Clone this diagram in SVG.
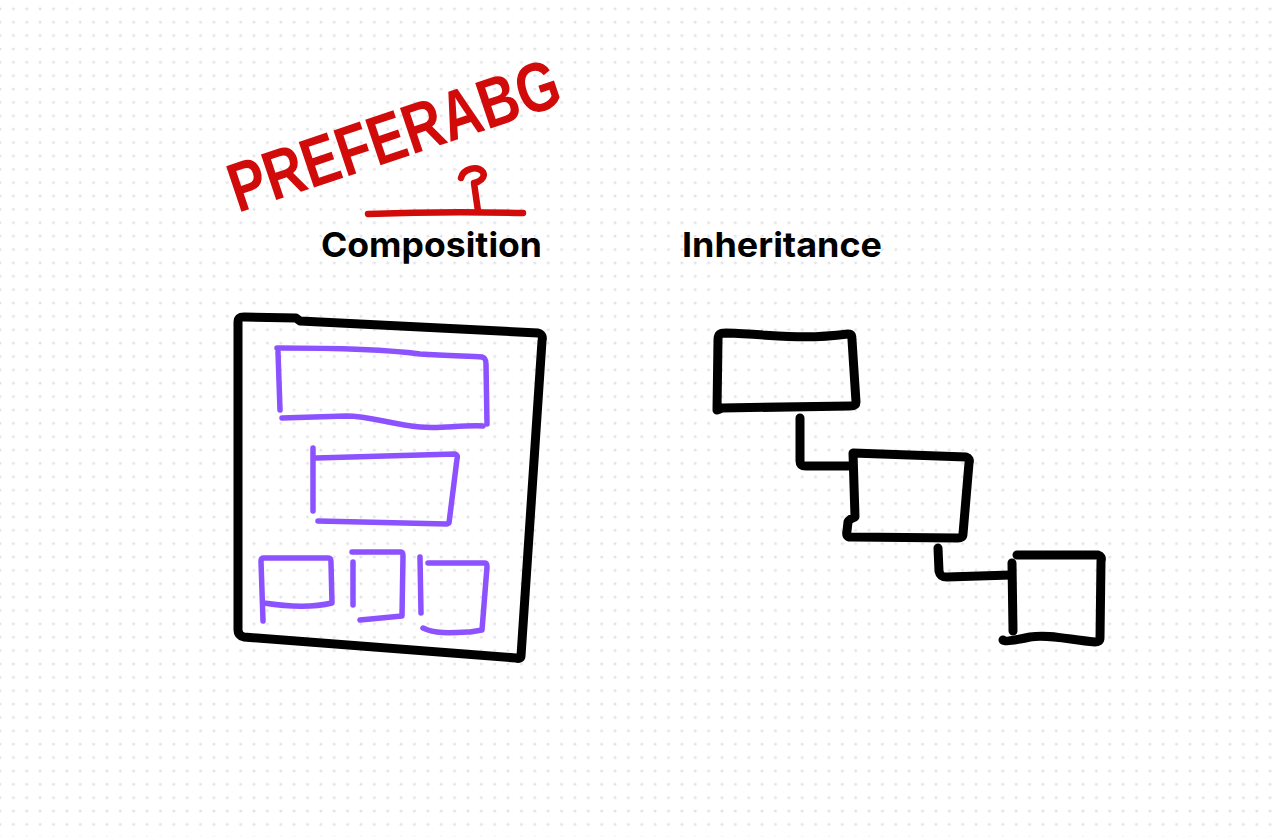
<svg xmlns="http://www.w3.org/2000/svg" width="1280" height="837" viewBox="0 0 1280 837">
<defs>
<pattern id="dots" patternUnits="userSpaceOnUse" x="-6.685" y="2.115" width="13.37" height="13.37">
<circle cx="6.685" cy="6.685" r="1.5" fill="#e2e2ea"/>
</pattern>
<style>
.blk{fill:none;stroke:#000;stroke-width:9;stroke-linecap:round;stroke-linejoin:round}
.pur{fill:none;stroke:#8c52ff;stroke-width:5.5;stroke-linecap:round;stroke-linejoin:round}
.red{fill:none;stroke:#d10a0a;stroke-width:6.5;stroke-linecap:round;stroke-linejoin:round}
.title{font-family:Inter,"Liberation Sans",sans-serif;font-weight:700;font-size:34px;fill:#000}
.hand{font-family:"Liberation Sans",Arial,sans-serif;font-weight:700;font-size:70px;fill:#d10a0a}
</style>
</defs>
<rect width="1280" height="837" fill="#fff"/>
<rect width="1280" height="837" fill="url(#dots)"/>

<g id="annotation-preferable">
<text class="hand" x="238" y="213" textLength="345" lengthAdjust="spacingAndGlyphs" transform="rotate(-18.5 238 213)">PREFERABG</text>
</g>

<g id="label-composition">
<text class="title" x="321" y="257" textLength="221" lengthAdjust="spacingAndGlyphs">Composition</text>
</g>
<g id="label-inheritance">
<text class="title" x="682" y="257" textLength="200" lengthAdjust="spacingAndGlyphs">Inheritance</text>
</g>

<g id="composition-frame">
<path class="blk" stroke-width="8.5" d="M238,630 L238,322 C238,318 240,317 244,317 L296,318 L300,321 L538,333 C542,334 543,337 542,341 L521,656 C521,658 519,659 516,658 L244,637 C240,636 238,634 238,630 Z"/>
</g>
<g id="comp-part-1">
<path class="pur" d="M278,352 L280,410"/>
<path class="pur" d="M277,348 C330,348 390,350 420,354 C450,356 470,356 482,357 C486,358 486,361 486,364 L487,424"/>
<path class="pur" d="M483,426 C460,425 440,429 420,427 C390,424 370,416 346,416 L282,418"/>
</g>
<g id="comp-part-2">
<path class="pur" d="M313,448 L313,511"/>
<path class="pur" d="M316,458 L455,454 C457,455 458,456 457,459 L449,523"/>
<path class="pur" d="M318,521 L447,524"/>
</g>
<g id="comp-part-3">
<path class="pur" d="M263,621 L261,561 C261,559 262,558 264,558 L328,558 C331,558 331,560 331,563 L332,603 C315,607 290,607 264,603"/>
</g>
<g id="comp-part-4">
<path class="pur" d="M352,552 L401,552 C403,552 403,554 403,556 L402,616 L360,620"/>
<path class="pur" d="M353,562 L353,605"/>
</g>
<g id="comp-part-5">
<path class="pur" d="M428,563 L485,563 C487,563 487,565 487,567 L482,630 L470,632 C450,633 435,634 423,628"/>
<path class="pur" d="M420,557 L421,613"/>
</g>

<g id="inherit-box-1">
<path class="blk" d="M717,410 L718,340 C718,334 720,333 726,333 C780,335 800,340 848,334 C852,334 852,336 852,340 L856,402 C856,405 854,406 850,406 L722,408 L717,410"/>
</g>
<g id="inherit-box-2">
<path class="blk" d="M853,453 L966,457 C969,458 970,460 969,463 L963,534 C963,537 961,538 958,538 L851,537 C847,537 846,535 847,531 L848,522 C849,519 853,518 855,517 Z"/>
</g>
<g id="inherit-box-3">
<path class="blk" d="M1017,555 L1098,555 C1101,556 1102,558 1101,561 L1100,638 C1100,641 1098,642 1095,642 C1070,640 1050,634 1030,637 C1015,640 1005,642 1003,640"/>
<path class="blk" d="M1012,563 L1013,631"/>
</g>

<g id="connectors">
<path class="blk" d="M800,418 L800,461 C800,465 802,466 806,466 L848,466"/>
<path class="blk" d="M938,548 L939,571 C940,576 942,577 947,577 L1011,575"/>
<path class="red" d="M368,214 C420,212 480,212 523,213"/>
<path class="red" d="M478,211 L474,183 M461,178 C463,169 477,165 483,172 C486,178 479,182 474,183"/>
</g>
</svg>
